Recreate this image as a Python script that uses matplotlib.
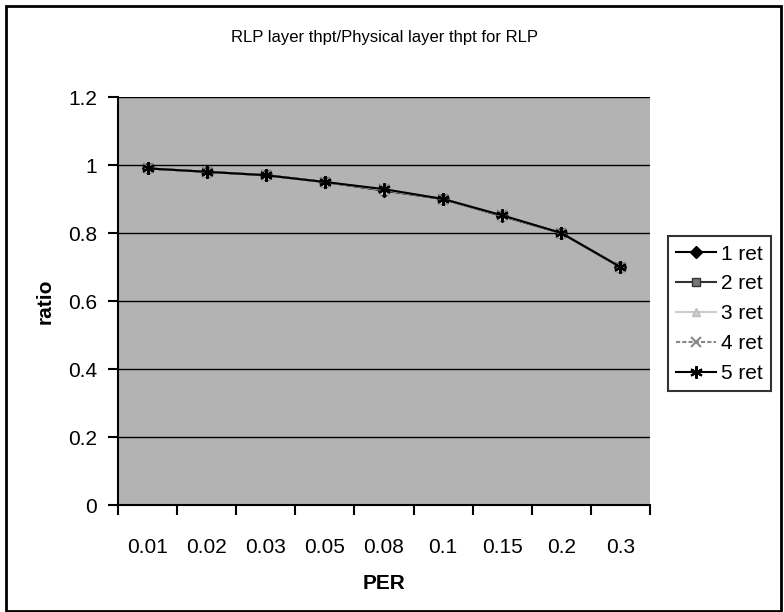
import matplotlib.pyplot as plt
from matplotlib.patches import Rectangle

plt.rcParams["font.family"] = ["Liberation Sans", "DejaVu Sans"]

per = ["0.01", "0.02", "0.03", "0.05", "0.08", "0.1", "0.15", "0.2", "0.3"]
ret1 = [0.99, 0.98, 0.97, 0.95, 0.925, 0.90, 0.85, 0.80, 0.70]
ret2 = [0.99, 0.98, 0.97, 0.95, 0.926, 0.90, 0.85, 0.80, 0.70]
ret3 = [0.99, 0.98, 0.97, 0.95, 0.927, 0.90, 0.851, 0.80, 0.70]
ret4 = [0.99, 0.98, 0.97, 0.95, 0.928, 0.90, 0.852, 0.80, 0.70]
ret5 = [0.99, 0.98, 0.97, 0.95, 0.929, 0.90, 0.852, 0.80, 0.70]

fig = plt.figure(figsize=(7.84, 6.12), dpi=100)
ax = fig.add_axes([0.1505, 0.1748, 0.6785, 0.6667])
ax.set_facecolor("#b3b3b3")

x = list(range(len(per)))
ax.plot(x, ret1, color="black", lw=1.5, marker="D", ms=6, mfc="black", label="1 ret", zorder=3)
ax.plot(x, ret2, color="#333333", lw=1.5, marker="s", ms=6, mfc="#777777", mec="#333333", label="2 ret", zorder=3)
ax.plot(x, ret3, color="#cccccc", lw=1.5, marker="^", ms=6, mfc="#cccccc", mec="#bbbbbb", label="3 ret", zorder=3)
ax.plot(x, ret4, color="#888888", lw=1.5, ls=(0, (2, 1)), marker="x", ms=7, mew=1.5, label="4 ret", zorder=3)
ax.plot(x, ret5, color="black", lw=1.5, marker=(6, 2, 0), ms=9, mew=1.5, label="5 ret", zorder=4)

ax.set_ylim(0, 1.2)
ax.set_xlim(-0.5, len(per) - 0.5)
ax.set_yticks([0, 0.2, 0.4, 0.6, 0.8, 1, 1.2])
ax.set_yticklabels(["0", "0.2", "0.4", "0.6", "0.8", "1", "1.2"])
ax.grid(axis="y", color="black", lw=1)
ax.set_axisbelow(True)

ax.set_xticks(x)
ax.set_xticklabels(per)
ax.tick_params(axis="x", which="major", length=0, pad=24)
ax.set_xticks([i - 0.5 for i in range(len(per) + 1)], minor=True)
ax.tick_params(axis="x", which="minor", length=7, width=1.5, direction="out")
ax.tick_params(axis="y", length=7, width=1.5, direction="out", pad=8)
ax.tick_params(labelsize=15)

for side in ["top", "right"]:
    ax.spines[side].set_visible(False)
for side in ["left", "bottom"]:
    ax.spines[side].set_linewidth(1.5)

ax.set_xlabel("PER", fontsize=15, fontweight="bold", labelpad=12)
ax.set_ylabel("ratio", fontsize=15, fontweight="bold", labelpad=10)
fig.text(0.49, 0.938, "RLP layer thpt/Physical layer thpt for RLP", ha="center", va="center", fontsize=12)

leg = fig.legend(loc="upper left", bbox_to_anchor=(0.852, 0.614), fontsize=15,
                 frameon=True, fancybox=False, edgecolor="black", handlelength=1.9,
                 labelspacing=0.52, handletextpad=0.25, borderpad=0.4, borderaxespad=0)
leg.get_frame().set_linewidth(1.5)

fig.patches.append(Rectangle((0.008, 0.002), 0.988, 0.988, transform=fig.transFigure,
                             fill=False, edgecolor="black", lw=2))

fig.savefig("out.png", dpi=100)
